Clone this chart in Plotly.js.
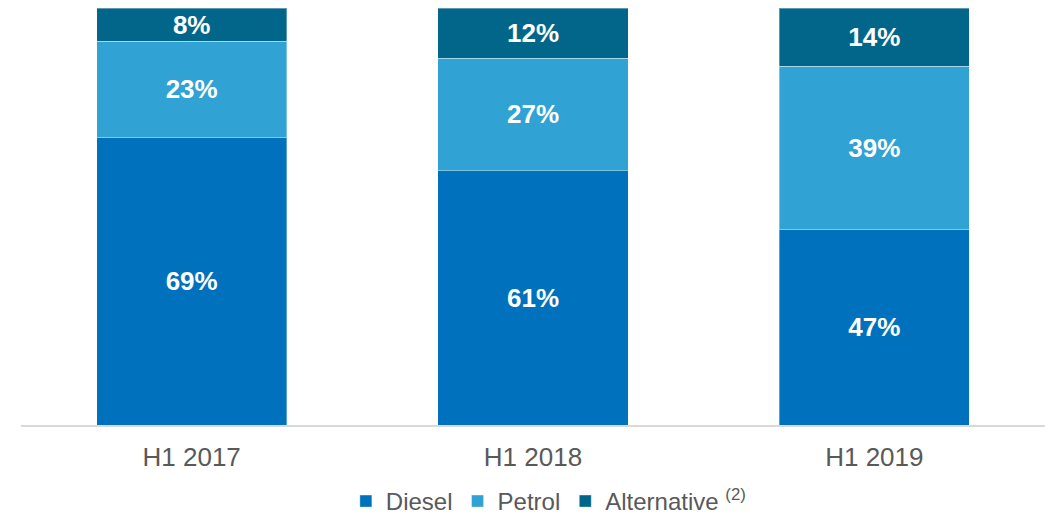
<!DOCTYPE html>
<html>
<head>
<meta charset="utf-8">
<script src="https://cdn.plot.ly/plotly-3.0.1.min.js"></script>
<style>html,body{margin:0;padding:0;background:#fff;}#chart{width:1045px;height:517px;}</style>
</head>
<body>
<div id="chart"></div>
<script>
const categories = ["H1 2017", "H1 2018", "H1 2019"];
const diesel = [69, 61, 47];
const petrol = [23, 27, 39];
const alternative = [8, 12, 14];
const seriesNames = ["Diesel", "Petrol", "Alternative <sup>(2)</sup>"];
const colors = ["#0071BC", "#30A2D3", "#02668A"];

const FONT = "Liberation Sans, Arial, sans-serif";
const fmt = v => v.map(x => x + "%");
const mk = (vals, i) => ({
  type: "bar",
  name: seriesNames[i],
  x: categories,
  y: vals,
  text: fmt(vals),
  textposition: "inside",
  insidetextanchor: "middle",
  textangle: 0,
  constraintext: "none",
  textfont: {family: FONT, size: 26, color: "#ffffff", weight: "bold"},
  marker: {color: colors[i], line: {color: "rgba(255,255,255,0.35)", width: 1}},
  hoverinfo: "none"
});

const data = [mk(diesel, 0), mk(petrol, 1), mk(alternative, 2)];

const layout = {
  width: 1045, height: 517,
  margin: {l: 21, r: 0, t: 8, b: 92, autoexpand: false},
  barmode: "stack",
  bargap: 0.443,
  paper_bgcolor: "#ffffff",
  plot_bgcolor: "#ffffff",
  font: {family: FONT, color: "#595959", size: 24},
  xaxis: {
    showline: true, linecolor: "#d9d9d9", linewidth: 1.5,
    ticks: "", showgrid: false, zeroline: false,
    ticklabelstandoff: 8,
    tickfont: {family: FONT, size: 26, color: "#595959"}
  },
  yaxis: {range: [0, 100], visible: false, showgrid: false, zeroline: false, fixedrange: true},
  showlegend: true,
  legend: {
    orientation: "h", x: 0.515, xanchor: "center",
    yref: "container", y: 0.03, yanchor: "middle",
    font: {family: FONT, size: 24, color: "#595959"}, traceorder: "normal",
    itemwidth: 30
  }
};

Plotly.newPlot("chart", data, layout, {displayModeBar: false, staticPlot: true});
</script>
</body>
</html>
